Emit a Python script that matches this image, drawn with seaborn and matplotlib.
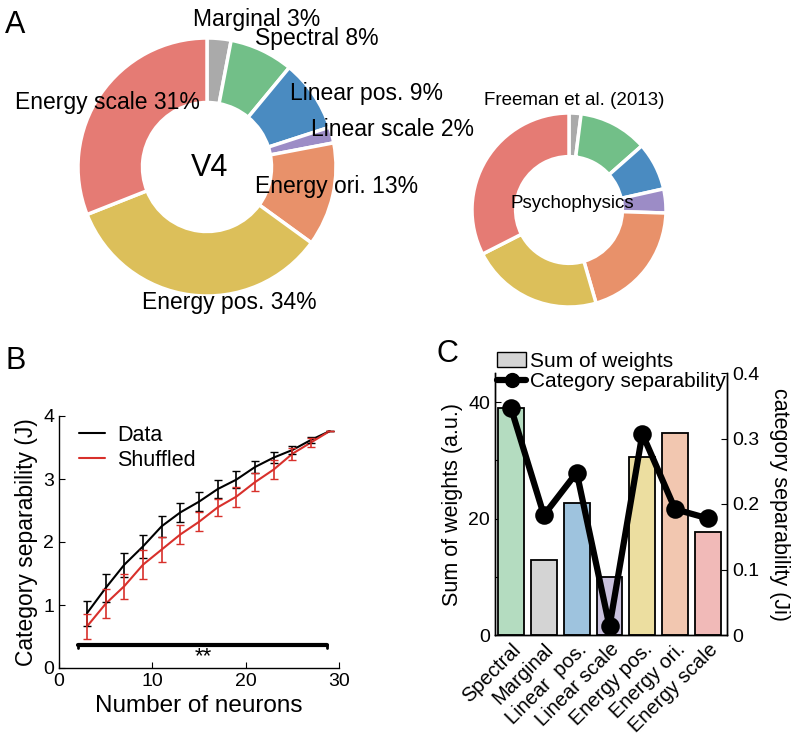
import numpy as np
import pandas as pd
import matplotlib
matplotlib.use('Agg')
import matplotlib.pyplot as plt
from matplotlib.patches import Patch
from matplotlib.lines import Line2D
import seaborn as sns

# ---- panel A: share of each feature group ----
groups = ['Marginal', 'Spectral', 'Linear pos.', 'Linear scale',
          'Energy ori.', 'Energy pos.', 'Energy scale']
v4_pct = [3, 8, 9, 2, 13, 34, 31]
psycho_pct = [2, 11.5, 8, 4, 20, 22, 32.5]
pie_colors = ['#aaaaaa', '#72bf88', '#4a8bc1', '#9c8cc6',
              '#e8916a', '#dcbf5a', '#e57b74']

# ---- panel B: separability vs number of neurons ----
n_neurons = [3, 5, 7, 9, 11, 13, 15, 17, 19, 21, 23, 25, 27, 29]
data_mean = [0.87, 1.27, 1.64, 1.93, 2.25, 2.47, 2.64, 2.84, 2.99, 3.19, 3.34, 3.46, 3.62, 3.76]
data_err = [0.20, 0.22, 0.19, 0.18, 0.17, 0.15, 0.15, 0.14, 0.14, 0.10, 0.09, 0.07, 0.05, 0.0]
shuf_mean = [0.66, 1.02, 1.30, 1.64, 1.88, 2.12, 2.32, 2.55, 2.72, 2.95, 3.15, 3.40, 3.58, 3.76]
shuf_err = [0.20, 0.23, 0.20, 0.23, 0.20, 0.15, 0.15, 0.13, 0.16, 0.14, 0.15, 0.10, 0.07, 0.0]

# ---- panel C: weights and separability per group ----
c_labels = ['Spectral', 'Marginal', 'Linear  pos.', 'Linear scale',
            'Energy pos.', 'Energy ori.', 'Energy scale']
sum_weights = [39.0, 12.9, 22.6, 10.0, 30.6, 34.7, 17.7]
cat_sep = [0.346, 0.183, 0.248, 0.013, 0.307, 0.192, 0.178]
bar_colors = ['#b4dcc0', '#d4d4d4', '#9ec3de', '#c9c1dd',
              '#ecdea0', '#f2c7b0', '#f1bab8']

sns.set_style('white')
plt.rcParams['font.family'] = ['Liberation Sans', 'DejaVu Sans']
plt.rcParams['text.color'] = 'black'
plt.rcParams['axes.labelcolor'] = 'black'
plt.rcParams['xtick.color'] = 'black'
plt.rcParams['ytick.color'] = 'black'
plt.rcParams['axes.edgecolor'] = 'black'

fig = plt.figure(figsize=(7.96, 7.38), dpi=100)

# text layout of the V4 donut labels (donut units, left aligned)
v4_label_xy = [(-0.11, 1.14), (0.37, 1.00), (0.64, 0.57), (0.81, 0.29),
               (0.37, -0.15), (-0.50, -1.05), (-1.49, 0.50)]

ax_a = fig.add_axes([(207 - 129) / 796, 1 - (167 + 129) / 738, 258 / 796, 258 / 738])
ax_a.pie(v4_pct, colors=pie_colors, startangle=90, counterclock=False,
         wedgeprops=dict(width=0.5, edgecolor='white', linewidth=2.5))
ax_a.set_xlim(-1, 1)
ax_a.set_ylim(-1, 1)
for g, p, (tx, ty) in zip(groups, v4_pct, v4_label_xy):
    ax_a.text(tx, ty, f'{g} {p}%', fontsize=16.5, ha='left', va='center', clip_on=False)
ax_a.text(0.02, -0.01, 'V4', fontsize=22, ha='center', va='center')

ax_p = fig.add_axes([(569 - 97) / 796, 1 - (210 + 97) / 738, 194 / 796, 194 / 738])
ax_p.pie(psycho_pct, colors=pie_colors, startangle=90, counterclock=False,
         wedgeprops=dict(width=0.45, edgecolor='white', linewidth=2.5))
ax_p.set_xlim(-1, 1)
ax_p.set_ylim(-1, 1)
ax_p.text(0.05, 1.13, 'Freeman et al. (2013)', fontsize=13.5, ha='center', va='center', clip_on=False)
ax_p.text(0.03, 0.07, 'Psychophysics', fontsize=13.5, ha='center', va='center')

# ---- B ----
ax_b = fig.add_axes([59 / 796, 1 - 668 / 738, 280 / 796, 252 / 738])
df_b = pd.DataFrame({
    'n': n_neurons * 2,
    'J': data_mean + shuf_mean,
    'cond': ['Data'] * len(n_neurons) + ['Shuffled'] * len(n_neurons),
})
b_pal = {'Data': 'black', 'Shuffled': '#d8302b'}
sns.lineplot(data=df_b, x='n', y='J', hue='cond', palette=b_pal, linewidth=1.5, ax=ax_b)
ax_b.errorbar(n_neurons, data_mean, yerr=data_err, fmt='none', ecolor='black',
              elinewidth=1.2, capsize=3)
ax_b.errorbar(n_neurons, shuf_mean, yerr=shuf_err, fmt='none', ecolor='#d8302b',
              elinewidth=1.2, capsize=3)
ax_b.plot([2, 28.7], [0.37, 0.37], color='black', lw=3)
ax_b.plot([2, 2], [0.31, 0.37], color='black', lw=2)
ax_b.plot([28.7, 28.7], [0.31, 0.37], color='black', lw=2)
ax_b.text(15.5, 0.18, '**', fontsize=16, ha='center', va='center')
ax_b.set_xlim(0, 30)
ax_b.set_ylim(0, 4)
ax_b.set_xticks([0, 10, 20, 30])
ax_b.set_yticks([0, 1, 2, 3, 4])
ax_b.tick_params(direction='in', length=4, labelsize=14, left=True, bottom=True)
ax_b.set_xlabel('Number of neurons', fontsize=17.5)
ax_b.set_ylabel('Category separability (J)', fontsize=16.5)
sns.despine(ax=ax_b)
ax_b.legend(frameon=False, fontsize=15.5, loc='upper left', bbox_to_anchor=(0.04, 1.0),
            handlelength=1.2, handletextpad=0.6, labelspacing=0.2, borderaxespad=0)

# ---- C ----
ax_c = fig.add_axes([495 / 796, 1 - 635 / 738, 232 / 796, 262 / 738])
sns.barplot(x=c_labels, y=sum_weights, hue=c_labels, palette=bar_colors, legend=False,
            saturation=1, edgecolor='black', linewidth=1.3, width=0.79, ax=ax_c)
ax_c.set_ylim(0, 45)
ax_c.set_yticks([0, 10, 20, 30, 40])
ax_c.set_yticklabels(['0', '', '20', '', '40'])
ax_c.set_ylabel('Sum of weights (a.u.)', fontsize=15.5, labelpad=4)
ax_c.tick_params(direction='in', length=4, labelsize=14, left=True, bottom=False)
ax_c.set_xticks(range(len(c_labels)))
ax_c.set_xticklabels(c_labels, rotation=45, ha='right', rotation_mode='anchor', fontsize=14.5)

ax_c2 = ax_c.twinx()
sns.pointplot(x=c_labels, y=cat_sep, color='black', markers='o', markersize=10,
              linewidth=4.5, ax=ax_c2)
ax_c2.set_ylim(0, 0.4)
ax_c2.set_yticks([0, 0.1, 0.2, 0.3, 0.4])
ax_c2.set_yticklabels(['0', '0.1', '0.2', '0.3', '0.4'])
ax_c2.tick_params(direction='in', length=4, labelsize=14, right=True)
ax_c2.set_ylabel('category separability (Ji)', fontsize=15.5, rotation=270, labelpad=22)
ax_c.set_xlim(-0.49, 6.58)
ax_c2.set_xlim(-0.49, 6.58)
for a in (ax_c, ax_c2):
    a.spines['top'].set_visible(False)
    for s in ('left', 'right', 'bottom'):
        a.spines[s].set_linewidth(1)

handles = [Patch(facecolor='#d4d4d4', edgecolor='black'),
           Line2D([], [], color='black', lw=4.5, marker='o', markersize=10)]
fig.legend(handles, ['Sum of weights', 'Category separability'], frameon=False,
           fontsize=15, loc='upper left', bbox_to_anchor=(497 / 796, 1 - 352 / 738),
           handlelength=1.4, handletextpad=0.2, labelspacing=0.05, borderaxespad=0,
           borderpad=0)

for s in ('left', 'bottom'):
    ax_b.spines[s].set_linewidth(1)

fig.text(5 / 796, 1 - 10 / 738, 'A', fontsize=22, va='top', ha='left')
fig.text(5 / 796, 1 - 346 / 738, 'B', fontsize=22, va='top', ha='left')
fig.text(437 / 796, 1 - 339 / 738, 'C', fontsize=22, va='top', ha='left')

fig.savefig('out.png', dpi=100)
